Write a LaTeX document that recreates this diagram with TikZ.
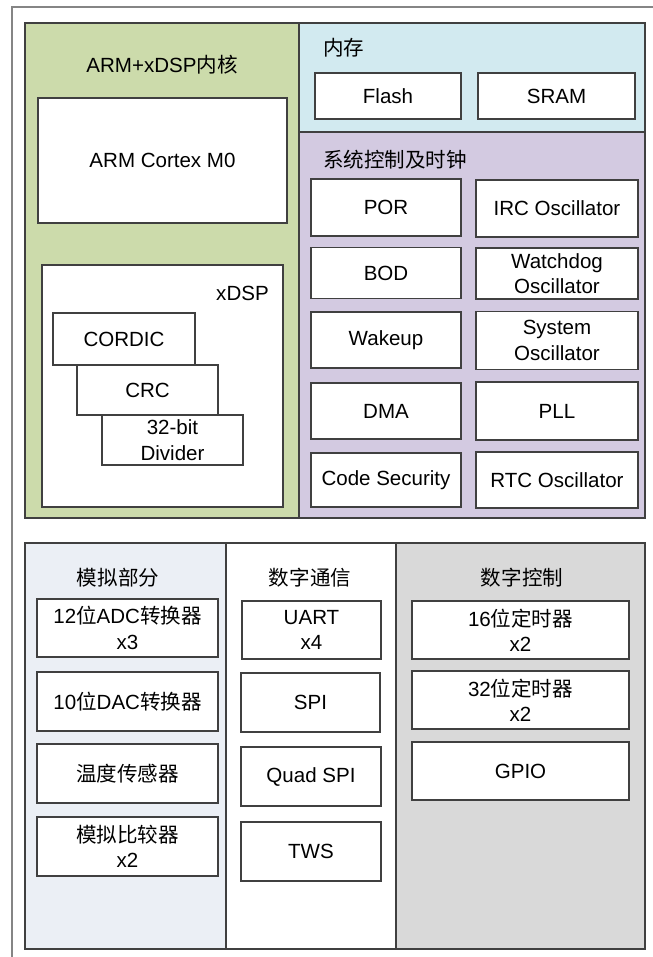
\documentclass[tikz,border=0pt]{standalone}
\usepackage{fontspec}
\setmainfont{Liberation Sans}
\newfontfamily\cjk{Noto Sans CJK SC}
\usepackage{tikz}
\usetikzlibrary{positioning}

\definecolor{edgegray}{HTML}{404040}
\definecolor{framegray}{HTML}{858585}
\definecolor{coregreen}{HTML}{CCDBAB}
\definecolor{memblue}{HTML}{D2EAF0}
\definecolor{syspurple}{HTML}{D3CAE1}
\definecolor{anapale}{HTML}{EBEFF5}
\definecolor{ctrlgray}{HTML}{D9D9D9}

\newcommand{\blkfont}{\fontsize{15.4}{19}\selectfont}
\newcommand{\zh}[1]{{\cjk #1}}

\tikzset{
  panel/.style={draw=edgegray, line width=0.8pt},
  blk/.style={draw=edgegray, fill=white, line width=0.8pt, align=center,
              inner sep=0pt, font=\blkfont},
  sz/.style 2 args={minimum width=#1*0.75pt, minimum height=#2*0.75pt},
  title/.style={inner sep=0pt, font=\blkfont},
}

\begin{document}
\begin{tikzpicture}[x=0.75pt, y=-0.75pt]
\useasboundingbox (0,0) rectangle (653,957);
\begin{scope}
\clip (0,0) rectangle (653,957);
\draw [framegray, line width=1pt] (12,7) rectangle (700,1000);

\fill [coregreen] (25,23) rectangle (299,518);
\fill [memblue] (299,23) rectangle (645,132);
\fill [syspurple] (299,132) rectangle (645,518);
\draw [panel] (25,23) rectangle (299,518);
\draw [panel] (299,23) rectangle (645,132);
\draw [panel] (299,132) rectangle (645,518);

\fill [anapale] (25,543) rectangle (226,949);
\fill [ctrlgray] (396,543) rectangle (645,949);
\draw [panel] (25,543) rectangle (645,949);
\draw [panel] (226,543) -- (226,949);
\draw [panel] (396,543) -- (396,949);
\end{scope}

\node (coret) [title] at (162,65) {ARM+xDSP\zh{内核}};
\node (m0) [blk, sz={249}{125}] at (162.5,160.5) {ARM Cortex M0};
\node (dsp) [blk, sz={241}{242}] at (162.5,386) {};
\node (dspt) [title, anchor=east] at (269,293) {xDSP};
\node (cordic) [blk, sz={142}{52}] at (124,339) {CORDIC};
\node (crc) [blk, sz={141}{50}] at (147.5,390) {CRC};
\node (div) [blk, sz={141}{50}] at (172.5,440) {32-bit\\Divider};

\node (memt) [title, anchor=west] at (323,48) {\zh{内存}};
\node (flash) [blk, sz={146}{46}] at (388,96) {Flash};
\node (sram) [blk, sz={157}{46}] at (556.5,96) {SRAM};

\node (syst) [title, anchor=west] at (323,160) {\zh{系统控制及时钟}};
\node (por) [blk, sz={150}{57}] at (386,207.5) {POR};
\node (irc) [blk, sz={162}{57}] at (557,208.5) {IRC Oscillator};
\node (bod) [blk, sz={150}{51}] at (386,273) {BOD};
\node (wdt) [blk, sz={162}{51}] at (557,273.5) {Watchdog\\Oscillator};
\node (wake) [blk, sz={150}{56}] at (386,340) {Wakeup};
\node (sosc) [blk, sz={162}{58}] at (557,340.5) {System\\Oscillator};
\node (dma) [blk, sz={150}{56}] at (386,411) {DMA};
\node (pll) [blk, sz={162}{58}] at (557,411) {PLL};
\node (sec) [blk, sz={150}{54}] at (386,480) {Code Security};
\node (rtc) [blk, sz={162}{56}] at (557,480) {RTC Oscillator};

\node (anat) [title] at (118,578) {\zh{模拟部分}};
\node (adc) [blk, sz={181}{58}] at (127.5,628) {12\zh{位}ADC\zh{转换器}\\x3};
\node (dac) [blk, sz={181}{59}] at (127.5,701.5) {10\zh{位}DAC\zh{转换器}};
\node (temp) [blk, sz={181}{59}] at (127.5,773.5) {\zh{温度传感器}};
\node (cmp) [blk, sz={181}{59}] at (127.5,846.5) {\zh{模拟比较器}\\x2};

\node (comt) [title] at (310,578) {\zh{数字通信}};
\node (uart) [blk, sz={139}{58}] at (311.5,630) {UART\\x4};
\node (spi) [blk, sz={139}{59}] at (310.5,702.5) {SPI};
\node (qspi) [blk, sz={140}{59}] at (311,776.5) {Quad SPI};
\node (tws) [blk, sz={140}{59}] at (311,851.5) {TWS};

\node (ctlt) [title] at (522,578) {\zh{数字控制}};
\node (tim16) [blk, sz={217}{58}] at (520.5,630) {16\zh{位定时器}\\x2};
\node (tim32) [blk, sz={217}{58}] at (520.5,700) {32\zh{位定时器}\\x2};
\node (gpio) [blk, sz={217}{58}] at (520.5,771) {GPIO};
\end{tikzpicture}
\end{document}
